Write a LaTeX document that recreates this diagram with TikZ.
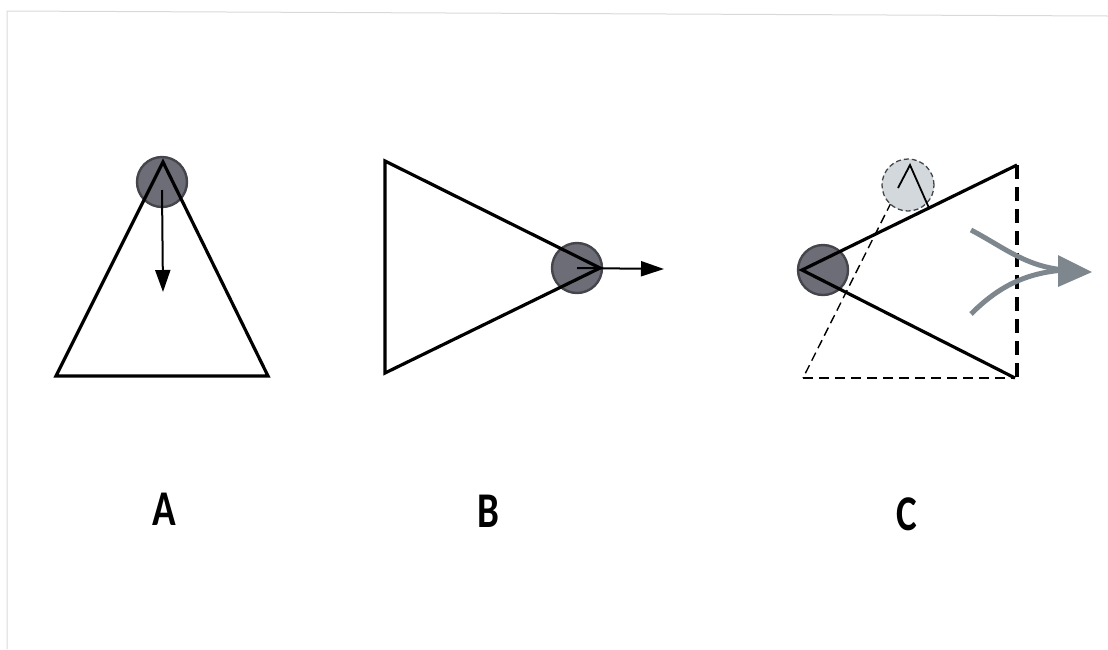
\documentclass[tikz,border=0pt]{standalone}
\usepackage{fontspec}
\setmainfont{Carlito}
\newfontfamily\tagfont{Carlito}[BoldFont={Carlito Bold}]
\usetikzlibrary{arrows.meta}
\definecolor{ballgray}{HTML}{6C6D76}
\definecolor{ballrim}{HTML}{45464C}
\definecolor{ghostgray}{HTML}{D3D8DC}
\definecolor{flowgray}{HTML}{7D878D}
\tikzset{
  ball/.style={circle, draw=ballrim, line width=2.4pt, fill=ballgray, minimum size=50pt, inner sep=0pt},
  ghost/.style={circle, draw=ballrim, dashed, dash pattern=on 5pt off 3pt, line width=1.3pt, fill=ghostgray, minimum size=52pt, inner sep=0pt},
  edge/.style={line width=3.2pt, line join=miter},
  lettertag/.style={font=\tagfont\bfseries\fontsize{50}{50}\selectfont, xscale=0.78, inner sep=0pt}
}
\begin{document}
\begin{tikzpicture}[x=1pt, y=-1pt]
\useasboundingbox (0,0) rectangle (1108,649);
\draw[black!15, line width=1pt] (7,649) -- (7,11) -- (1108,16);

% A
\node[ball] (ballA) at (162,182) {};
\coordinate (tipA) at (163,292);
\draw[edge] (163,162) -- (268,376) -- (56,376) -- cycle;
\draw[line width=2pt, -{Triangle[length=22pt,width=15pt]}] (ballA.center) ++(0,8) -- (tipA);
\node[lettertag] (labA) at (164,509) {A};

% B
\node[ball] (ballB) at (577,268) {};
\coordinate (tipB) at (664,269);
\draw[edge] (600,268) -- (385,373) -- (385,161) -- cycle;
\draw[line width=2pt, -{Triangle[length=23pt,width=15pt]}] (ballB.center) -- (tipB);
\node[lettertag] (labB) at (488,511) {B};

% C
\draw[line width=1.4pt, dash pattern=on 9pt off 5pt] (910,165) -- (803,378);
\draw[line width=2pt, dash pattern=on 10pt off 6pt] (803,378) -- (1015,378);
\draw[line width=3.5pt, dash pattern=on 14pt off 8pt] (1017,165) -- (1017,378);
\node[ghost] (ghostC) at (908,185) {};
\draw[line width=1.8pt] (898,188) -- (910,165) -- (929,208);
\node[ball] (ballC) at (823,270) {};
\draw[edge] (1017,165) -- (802,270) -- (1015,378);
\draw[flowgray, line width=5pt] (971,230) .. controls (1005,248) and (1025,266) .. (1064,270);
\draw[flowgray, line width=5pt] (971,314) .. controls (998,287) and (1025,273) .. (1064,270);
\fill[flowgray] (1058,255) -- (1092,272) -- (1058,287) -- cycle;
\node[lettertag] (labC) at (907,514) {C};
\end{tikzpicture}
\end{document}
